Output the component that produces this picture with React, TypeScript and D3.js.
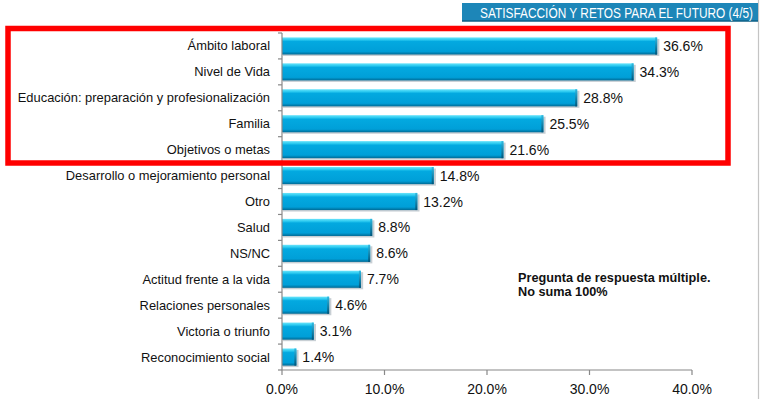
import React, { useEffect, useRef, useState } from "react";
import * as d3 from "d3";

const categories = [
  "Ámbito laboral",
  "Nivel de Vida",
  "Educación: preparación y profesionalización",
  "Familia",
  "Objetivos o metas",
  "Desarrollo o mejoramiento personal",
  "Otro",
  "Salud",
  "NS/NC",
  "Actitud frente a la vida",
  "Relaciones personales",
  "Victoria o triunfo",
  "Reconocimiento social",
];
const values = [36.6, 34.3, 28.8, 25.5, 21.6, 14.8, 13.2, 8.8, 8.6, 7.7, 4.6, 3.1, 1.4];
const xTicks = [0, 10, 20, 30, 40];
const title = "SATISFACCIÓN Y RETOS PARA EL FUTURO (4/5)";
const noteLines = ["Pregunta de respuesta múltiple.", "No suma 100%"];

export default function App() {
  const W = 762;
  const H = 399;
  const x = d3.scaleLinear().domain([0, 40]).range([282, 692]);
  const y = d3
    .scaleBand<string>()
    .domain(categories)
    .range([33, 370])
    .paddingInner(0.34)
    .paddingOuter(0.17);
  const step = y.step();
  const bw = y.bandwidth();
  const boundaries = d3.range(categories.length + 1).map((i) => 33 + i * step);
  const font = "'Liberation Sans', Arial, sans-serif";

  const titleRef = useRef<SVGTextElement>(null);
  const [titleScale, setTitleScale] = useState(0.8);
  useEffect(() => {
    if (titleRef.current) {
      const len = titleRef.current.getComputedTextLength();
      if (len > 0) setTitleScale(273 / len);
    }
  }, []);

  return (
    <svg
      width={W}
      height={H}
      style={{ position: "absolute", left: 0, top: 0, background: "#fff" }}
    >
      <defs>
        <linearGradient id="barG" x1="0" y1="0" x2="0" y2="1">
          <stop offset="0" stopColor="#6ae4fb" />
          <stop offset="0.14" stopColor="#2ccaf0" />
          <stop offset="0.24" stopColor="#03a9e0" />
          <stop offset="0.82" stopColor="#009fd8" />
          <stop offset="0.9" stopColor="#0088bb" />
          <stop offset="1" stopColor="#006a95" />
        </linearGradient>
        <linearGradient id="barR" x1="0" y1="0" x2="0" y2="1">
          <stop offset="0" stopColor="#2fb8e0" />
          <stop offset="1" stopColor="#00557a" />
        </linearGradient>
      </defs>
      <rect x={0} y={0} width={W} height={H} fill="#fff" />

      {/* right frame line */}
      <line x1={758.5} y1={0} x2={758.5} y2={H} stroke="#c4c4c4" strokeWidth={1.2} />

      {/* title bar */}
      <rect x={462} y={3} width={296} height={18} fill="#1d86b8" />
      <line x1={462} y1={21} x2={758} y2={21} stroke="#0d5f86" strokeWidth={1.5} />
      <g transform={`translate(480,17.5) scale(${titleScale},1)`}>
        <text ref={titleRef} x={0} y={0} fill="#fff" fontFamily={font} fontSize={14.5}>
          {title}
        </text>
      </g>

      {/* bars */}
      {categories.map((c, i) => {
        const y0 = y(c)!;
        const x1 = x(values[i]);
        const w = x1 - x(0);
        return (
          <g key={c}>
            <rect x={x(0) + 1} y={y0 + 1.5} width={w + 1.2} height={bw} fill="#9aa8b0" opacity={0.55} />
            <rect x={x(0)} y={y0} width={w} height={bw} fill="url(#barG)" />
            <rect x={x1 - 2} y={y0} width={2} height={bw} fill="url(#barR)" />
            <text
              x={x1 + 6}
              y={y0 + bw / 2}
              dy="0.36em"
              fontFamily={font}
              fontSize={14}
              fill="#111"
            >
              {values[i].toFixed(1)}%
            </text>
            <text
              x={270}
              y={y0 + bw / 2}
              dy="0.35em"
              textAnchor="end"
              fontFamily={font}
              fontSize={12.9}
              fill="#111"
            >
              {c}
            </text>
          </g>
        );
      })}

      {/* y axis */}
      <line x1={x(0)} y1={33} x2={x(0)} y2={370} stroke="#888" strokeWidth={1.2} />
      {boundaries.map((b, i) => (
        <line key={i} x1={x(0) - 4} y1={b} x2={x(0)} y2={b} stroke="#888" strokeWidth={1.2} />
      ))}

      {/* x axis */}
      <line x1={x(0)} y1={370} x2={x(40)} y2={370} stroke="#888" strokeWidth={1.2} />
      {xTicks.map((t) => (
        <g key={t}>
          <line x1={x(t)} y1={370} x2={x(t)} y2={375} stroke="#888" strokeWidth={1.2} />
          <text
            x={x(t)}
            y={394}
            textAnchor="middle"
            fontFamily={font}
            fontSize={14}
            fill="#111"
          >
            {t.toFixed(1)}%
          </text>
        </g>
      ))}

      {/* note */}
      {noteLines.map((l, i) => (
        <text
          key={i}
          x={518}
          y={282 + i * 14}
          fontFamily={font}
          fontSize={12.7}
          fontWeight="bold"
          fill="#111"
        >
          {l}
        </text>
      ))}

      {/* red highlight box */}
      <rect x={8} y={28.5} width={720} height={134.5} fill="none" stroke="#ff0000" strokeWidth={5.5} />
    </svg>
  );
}
